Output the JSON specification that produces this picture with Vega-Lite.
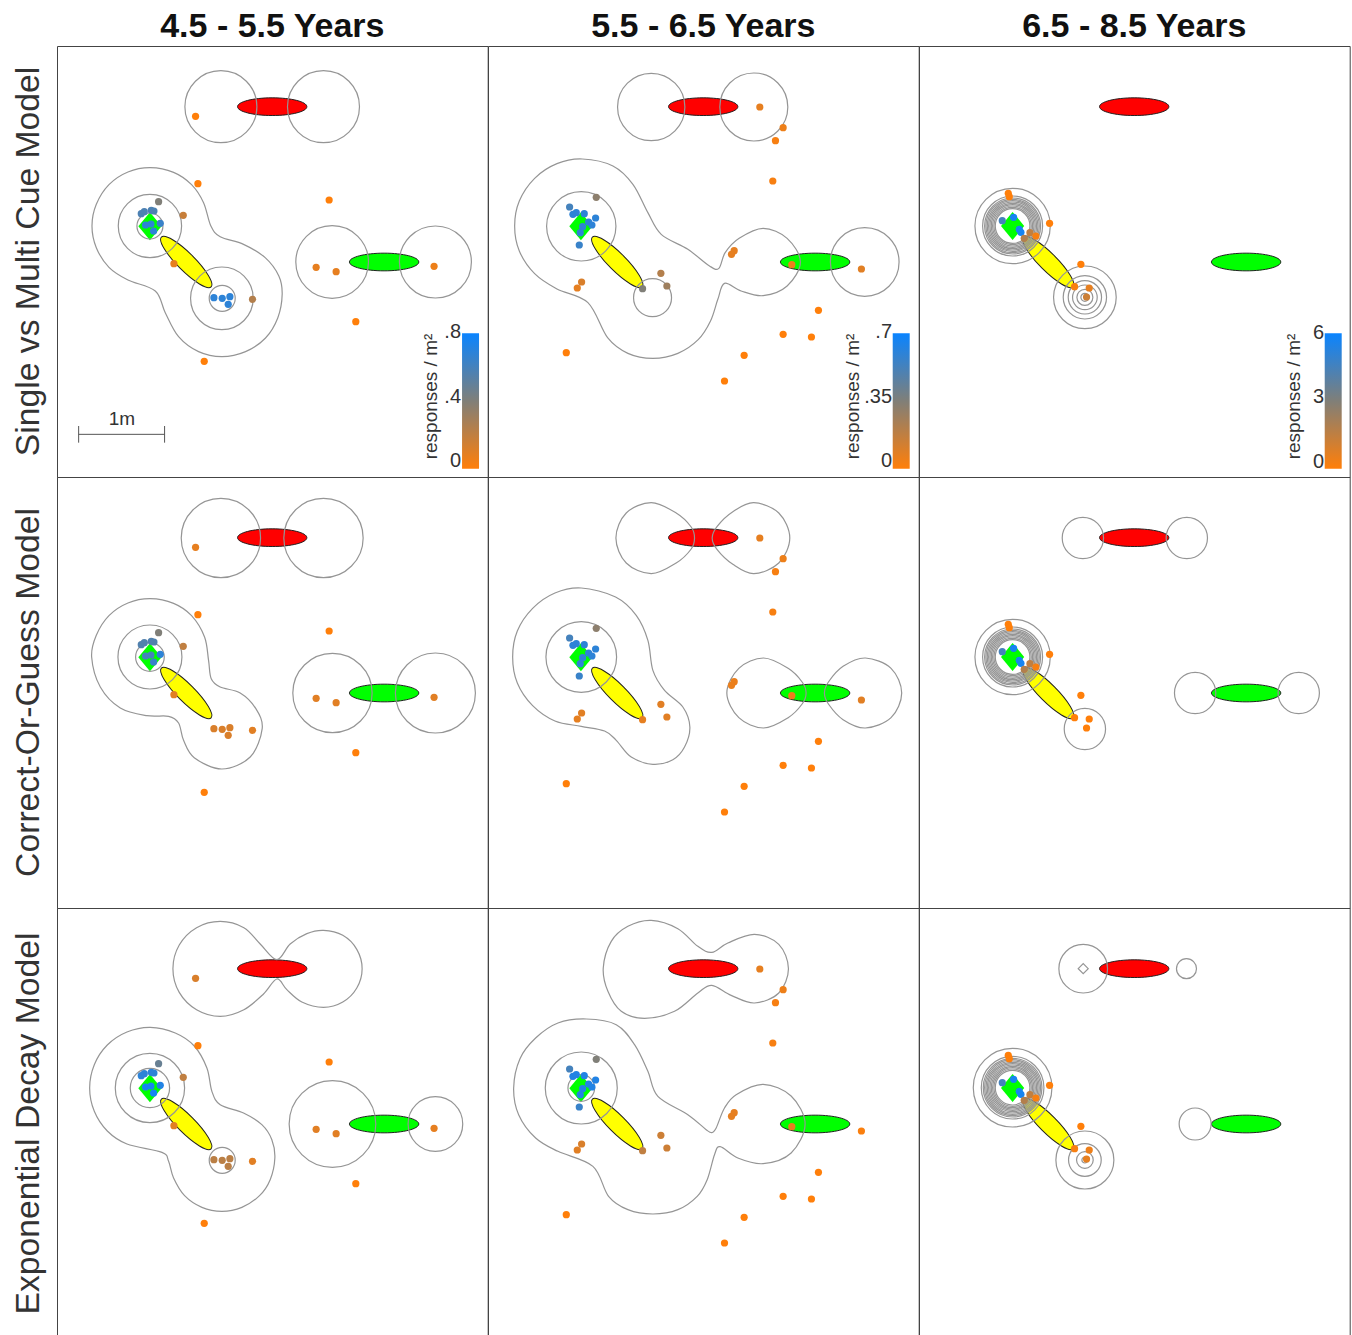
{"$schema":"https://vega.github.io/schema/vega-lite/v6.json","padding":{"left":12,"top":10,"right":0,"bottom":0},"spacing":0,"bounds":"flush","config":{"view":{"stroke":"#444","strokeWidth":1}},
"data":{"values":[
{"r":1,"c":1,"k":"E","s":"red","x":646,"y":182},{"r":1,"c":1,"k":"E","s":"green","x":982,"y":648},{"r":1,"c":1,"k":"Y","x":388,"y":648},{"r":1,"c":1,"k":"G","x":279,"y":541},
{"r":1,"c":2,"k":"E","s":"red","x":646,"y":182},{"r":1,"c":2,"k":"E","s":"green","x":982,"y":648},{"r":1,"c":2,"k":"Y","x":388,"y":648},{"r":1,"c":2,"k":"G","x":279,"y":541},
{"r":1,"c":3,"k":"E","s":"red","x":646,"y":182},{"r":1,"c":3,"k":"E","s":"green","x":982,"y":648},{"r":1,"c":3,"k":"Y","x":388,"y":648},{"r":1,"c":3,"k":"G","x":281,"y":540},
{"r":2,"c":1,"k":"E","s":"red","x":646,"y":182},{"r":2,"c":1,"k":"E","s":"green","x":982,"y":648},{"r":2,"c":1,"k":"Y","x":388,"y":648},{"r":2,"c":1,"k":"G","x":279,"y":541},
{"r":2,"c":2,"k":"E","s":"red","x":646,"y":182},{"r":2,"c":2,"k":"E","s":"green","x":982,"y":648},{"r":2,"c":2,"k":"Y","x":388,"y":648},{"r":2,"c":2,"k":"G","x":279,"y":541},
{"r":2,"c":3,"k":"E","s":"red","x":646,"y":182},{"r":2,"c":3,"k":"E","s":"green","x":982,"y":648},{"r":2,"c":3,"k":"Y","x":388,"y":648},{"r":2,"c":3,"k":"G","x":281,"y":540},
{"r":3,"c":1,"k":"E","s":"red","x":646,"y":182},{"r":3,"c":1,"k":"E","s":"green","x":982,"y":648},{"r":3,"c":1,"k":"Y","x":388,"y":648},{"r":3,"c":1,"k":"G","x":279,"y":541},
{"r":3,"c":2,"k":"E","s":"red","x":646,"y":182},{"r":3,"c":2,"k":"E","s":"green","x":982,"y":648},{"r":3,"c":2,"k":"Y","x":388,"y":648},{"r":3,"c":2,"k":"G","x":279,"y":541},
{"r":3,"c":3,"k":"E","s":"red","x":646,"y":182},{"r":3,"c":3,"k":"E","s":"green","x":982,"y":648},{"r":3,"c":3,"k":"Y","x":388,"y":648},{"r":3,"c":3,"k":"G","x":281,"y":540},

{"r":1,"c":1,"k":"R","x":492,"y":182,"d":108},{"r":1,"c":1,"k":"R","x":800,"y":182,"d":108},{"r":1,"c":1,"k":"R","x":826,"y":648,"d":109},{"r":1,"c":1,"k":"R","x":1136,"y":648,"d":108},{"r":1,"c":1,"k":"R","x":279,"y":540,"d":95},{"r":1,"c":1,"k":"R","x":279,"y":540,"d":39},{"r":1,"c":1,"k":"R","x":495,"y":757,"d":94},{"r":1,"c":1,"k":"R","x":496,"y":757,"d":39},
{"r":1,"c":2,"k":"R","x":490,"y":183,"d":101},{"r":1,"c":2,"k":"R","x":798,"y":183,"d":102},{"r":1,"c":2,"k":"R","x":1131,"y":648,"d":103},{"r":1,"c":2,"k":"R","x":280,"y":541,"d":104},{"r":1,"c":2,"k":"R","x":494,"y":755,"d":57},
{"r":1,"c":3,"k":"R","x":281,"y":540,"d":113},{"r":1,"c":3,"k":"R","x":281,"y":540,"d":90},{"r":1,"c":3,"k":"R","x":281,"y":540,"d":84},{"r":1,"c":3,"k":"R","x":281,"y":540,"d":80},{"r":1,"c":3,"k":"R","x":281,"y":540,"d":76},{"r":1,"c":3,"k":"R","x":281,"y":540,"d":72},{"r":1,"c":3,"k":"R","x":281,"y":540,"d":68},{"r":1,"c":3,"k":"R","x":281,"y":540,"d":64},{"r":1,"c":3,"k":"R","x":281,"y":540,"d":60},{"r":1,"c":3,"k":"R","x":281,"y":540,"d":56},{"r":1,"c":3,"k":"R","x":281,"y":540,"d":52},
{"r":1,"c":3,"k":"R","x":498,"y":754,"d":94},{"r":1,"c":3,"k":"R","x":498,"y":754,"d":65},{"r":1,"c":3,"k":"R","x":498,"y":754,"d":50},{"r":1,"c":3,"k":"R","x":498,"y":754,"d":37},{"r":1,"c":3,"k":"R","x":498,"y":754,"d":24},{"r":1,"c":3,"k":"R","x":498,"y":754,"d":12},
{"r":2,"c":1,"k":"R","x":492,"y":183,"d":119},{"r":2,"c":1,"k":"R","x":800,"y":183,"d":119},{"r":2,"c":1,"k":"R","x":827,"y":648,"d":119},{"r":2,"c":1,"k":"R","x":1136,"y":648,"d":120},{"r":2,"c":1,"k":"R","x":279,"y":540,"d":96},{"r":2,"c":1,"k":"R","x":279,"y":540,"d":43},
{"r":2,"c":2,"k":"R","x":280,"y":540,"d":106},
{"r":2,"c":3,"k":"R","x":492,"y":183,"d":62},{"r":2,"c":3,"k":"R","x":804,"y":183,"d":62},{"r":2,"c":3,"k":"R","x":829,"y":648,"d":62},{"r":2,"c":3,"k":"R","x":1140,"y":648,"d":62},{"r":2,"c":3,"k":"R","x":498,"y":756,"d":62},
{"r":2,"c":3,"k":"R","x":281,"y":540,"d":113},{"r":2,"c":3,"k":"R","x":281,"y":540,"d":90},{"r":2,"c":3,"k":"R","x":281,"y":540,"d":84},{"r":2,"c":3,"k":"R","x":281,"y":540,"d":80},{"r":2,"c":3,"k":"R","x":281,"y":540,"d":76},{"r":2,"c":3,"k":"R","x":281,"y":540,"d":72},{"r":2,"c":3,"k":"R","x":281,"y":540,"d":68},{"r":2,"c":3,"k":"R","x":281,"y":540,"d":64},{"r":2,"c":3,"k":"R","x":281,"y":540,"d":60},{"r":2,"c":3,"k":"R","x":281,"y":540,"d":56},{"r":2,"c":3,"k":"R","x":281,"y":540,"d":52},
{"r":3,"c":1,"k":"R","x":279,"y":540,"d":104},{"r":3,"c":1,"k":"R","x":279,"y":540,"d":59},{"r":3,"c":1,"k":"R","x":496,"y":757,"d":39},{"r":3,"c":1,"k":"R","x":827,"y":648,"d":130},{"r":3,"c":1,"k":"R","x":1136,"y":648,"d":82},
{"r":3,"c":2,"k":"R","x":280,"y":540,"d":108},{"r":3,"c":2,"k":"R","x":280,"y":540,"d":40},
{"r":3,"c":3,"k":"R","x":493,"y":182,"d":73},{"r":3,"c":3,"k":"R","x":803,"y":182,"d":30},{"r":3,"c":3,"k":"R","x":829,"y":648,"d":48},{"r":3,"c":3,"k":"R","x":498,"y":756,"d":87},{"r":3,"c":3,"k":"R","x":498,"y":756,"d":49},{"r":3,"c":3,"k":"R","x":498,"y":756,"d":25},{"r":3,"c":3,"k":"R","x":498,"y":756,"d":9},
{"r":3,"c":3,"k":"R","x":281,"y":539,"d":118},{"r":3,"c":3,"k":"R","x":281,"y":539,"d":94},{"r":3,"c":3,"k":"R","x":281,"y":539,"d":88},{"r":3,"c":3,"k":"R","x":281,"y":539,"d":84},{"r":3,"c":3,"k":"R","x":281,"y":539,"d":80},{"r":3,"c":3,"k":"R","x":281,"y":539,"d":76},{"r":3,"c":3,"k":"R","x":281,"y":539,"d":72},{"r":3,"c":3,"k":"R","x":281,"y":539,"d":68},{"r":3,"c":3,"k":"R","x":281,"y":539,"d":64},{"r":3,"c":3,"k":"R","x":281,"y":539,"d":60},{"r":3,"c":3,"k":"R","x":281,"y":539,"d":56},{"r":3,"c":3,"k":"R","x":281,"y":539,"d":52},
{"r":3,"c":3,"k":"D","x":493,"y":182},

{"r":1,"c":1,"k":"L","i":"a","x":280,"y":365},{"r":1,"c":1,"k":"L","i":"a","x":350,"y":379},{"r":1,"c":1,"k":"L","i":"a","x":404,"y":416},{"r":1,"c":1,"k":"L","i":"a","x":440,"y":470},{"r":1,"c":1,"k":"L","i":"a","x":462,"y":540},{"r":1,"c":1,"k":"L","i":"a","x":490,"y":572},{"r":1,"c":1,"k":"L","i":"a","x":560,"y":595},{"r":1,"c":1,"k":"L","i":"a","x":625,"y":635},{"r":1,"c":1,"k":"L","i":"a","x":666,"y":690},{"r":1,"c":1,"k":"L","i":"a","x":676,"y":745},{"r":1,"c":1,"k":"L","i":"a","x":663,"y":815},{"r":1,"c":1,"k":"L","i":"a","x":626,"y":876},{"r":1,"c":1,"k":"L","i":"a","x":566,"y":917},{"r":1,"c":1,"k":"L","i":"a","x":495,"y":932},{"r":1,"c":1,"k":"L","i":"a","x":425,"y":917},{"r":1,"c":1,"k":"L","i":"a","x":365,"y":872},{"r":1,"c":1,"k":"L","i":"a","x":325,"y":800},{"r":1,"c":1,"k":"L","i":"a","x":295,"y":735},{"r":1,"c":1,"k":"L","i":"a","x":213,"y":702},{"r":1,"c":1,"k":"L","i":"a","x":156,"y":664},{"r":1,"c":1,"k":"L","i":"a","x":118,"y":605},{"r":1,"c":1,"k":"L","i":"a","x":105,"y":540},{"r":1,"c":1,"k":"L","i":"a","x":118,"y":475},{"r":1,"c":1,"k":"L","i":"a","x":156,"y":416},{"r":1,"c":1,"k":"L","i":"a","x":213,"y":378},
{"r":1,"c":2,"k":"L","i":"b","x":283,"y":339},{"r":1,"c":2,"k":"L","i":"b","x":375,"y":360},{"r":1,"c":2,"k":"L","i":"b","x":435,"y":415},{"r":1,"c":2,"k":"L","i":"b","x":480,"y":500},{"r":1,"c":2,"k":"L","i":"b","x":520,"y":565},{"r":1,"c":2,"k":"L","i":"b","x":600,"y":610},{"r":1,"c":2,"k":"L","i":"b","x":665,"y":660},{"r":1,"c":2,"k":"L","i":"b","x":693,"y":667},{"r":1,"c":2,"k":"L","i":"b","x":712,"y":620},{"r":1,"c":2,"k":"L","i":"b","x":754,"y":577},{"r":1,"c":2,"k":"L","i":"b","x":826,"y":547},{"r":1,"c":2,"k":"L","i":"b","x":898,"y":577},{"r":1,"c":2,"k":"L","i":"b","x":938,"y":648},{"r":1,"c":2,"k":"L","i":"b","x":898,"y":720},{"r":1,"c":2,"k":"L","i":"b","x":826,"y":749},{"r":1,"c":2,"k":"L","i":"b","x":760,"y":735},{"r":1,"c":2,"k":"L","i":"b","x":710,"y":712},{"r":1,"c":2,"k":"L","i":"b","x":690,"y":760},{"r":1,"c":2,"k":"L","i":"b","x":668,"y":825},{"r":1,"c":2,"k":"L","i":"b","x":631,"y":881},{"r":1,"c":2,"k":"L","i":"b","x":570,"y":922},{"r":1,"c":2,"k":"L","i":"b","x":495,"y":937},{"r":1,"c":2,"k":"L","i":"b","x":420,"y":922},{"r":1,"c":2,"k":"L","i":"b","x":359,"y":875},{"r":1,"c":2,"k":"L","i":"b","x":300,"y":770},{"r":1,"c":2,"k":"L","i":"b","x":207,"y":729},{"r":1,"c":2,"k":"L","i":"b","x":140,"y":683},{"r":1,"c":2,"k":"L","i":"b","x":94,"y":615},{"r":1,"c":2,"k":"L","i":"b","x":80,"y":540},{"r":1,"c":2,"k":"L","i":"b","x":94,"y":465},{"r":1,"c":2,"k":"L","i":"b","x":140,"y":397},{"r":1,"c":2,"k":"L","i":"b","x":207,"y":353},
{"r":2,"c":1,"k":"L","i":"c","x":280,"y":365},{"r":2,"c":1,"k":"L","i":"c","x":350,"y":379},{"r":2,"c":1,"k":"L","i":"c","x":404,"y":416},{"r":2,"c":1,"k":"L","i":"c","x":443,"y":480},{"r":2,"c":1,"k":"L","i":"c","x":455,"y":550},{"r":2,"c":1,"k":"L","i":"c","x":463,"y":605},{"r":2,"c":1,"k":"L","i":"c","x":490,"y":630},{"r":2,"c":1,"k":"L","i":"c","x":550,"y":648},{"r":2,"c":1,"k":"L","i":"c","x":597,"y":695},{"r":2,"c":1,"k":"L","i":"c","x":616,"y":755},{"r":2,"c":1,"k":"L","i":"c","x":580,"y":840},{"r":2,"c":1,"k":"L","i":"c","x":495,"y":876},{"r":2,"c":1,"k":"L","i":"c","x":412,"y":842},{"r":2,"c":1,"k":"L","i":"c","x":380,"y":790},{"r":2,"c":1,"k":"L","i":"c","x":365,"y":738},{"r":2,"c":1,"k":"L","i":"c","x":335,"y":718},{"r":2,"c":1,"k":"L","i":"c","x":270,"y":716},{"r":2,"c":1,"k":"L","i":"c","x":190,"y":693},{"r":2,"c":1,"k":"L","i":"c","x":130,"y":630},{"r":2,"c":1,"k":"L","i":"c","x":104,"y":540},{"r":2,"c":1,"k":"L","i":"c","x":118,"y":475},{"r":2,"c":1,"k":"L","i":"c","x":156,"y":416},{"r":2,"c":1,"k":"L","i":"c","x":213,"y":378},
{"r":2,"c":2,"k":"L","i":"d","x":280,"y":333},{"r":2,"c":2,"k":"L","i":"d","x":383,"y":360},{"r":2,"c":2,"k":"L","i":"d","x":445,"y":415},{"r":2,"c":2,"k":"L","i":"d","x":480,"y":490},{"r":2,"c":2,"k":"L","i":"d","x":495,"y":580},{"r":2,"c":2,"k":"L","i":"d","x":530,"y":640},{"r":2,"c":2,"k":"L","i":"d","x":585,"y":690},{"r":2,"c":2,"k":"L","i":"d","x":606,"y":750},{"r":2,"c":2,"k":"L","i":"d","x":590,"y":810},{"r":2,"c":2,"k":"L","i":"d","x":555,"y":848},{"r":2,"c":2,"k":"L","i":"d","x":495,"y":862},{"r":2,"c":2,"k":"L","i":"d","x":430,"y":840},{"r":2,"c":2,"k":"L","i":"d","x":385,"y":790},{"r":2,"c":2,"k":"L","i":"d","x":350,"y":762},{"r":2,"c":2,"k":"L","i":"d","x":280,"y":748},{"r":2,"c":2,"k":"L","i":"d","x":201,"y":732},{"r":2,"c":2,"k":"L","i":"d","x":134,"y":686},{"r":2,"c":2,"k":"L","i":"d","x":88,"y":618},{"r":2,"c":2,"k":"L","i":"d","x":74,"y":540},{"r":2,"c":2,"k":"L","i":"d","x":88,"y":462},{"r":2,"c":2,"k":"L","i":"d","x":134,"y":394},{"r":2,"c":2,"k":"L","i":"d","x":201,"y":348},
{"r":2,"c":2,"k":"L","i":"e","x":490,"y":77},{"r":2,"c":2,"k":"L","i":"e","x":565,"y":108},{"r":2,"c":2,"k":"L","i":"e","x":610,"y":150},{"r":2,"c":2,"k":"L","i":"e","x":620,"y":183},{"r":2,"c":2,"k":"L","i":"e","x":610,"y":216},{"r":2,"c":2,"k":"L","i":"e","x":565,"y":258},{"r":2,"c":2,"k":"L","i":"e","x":490,"y":290},{"r":2,"c":2,"k":"L","i":"e","x":415,"y":258},{"r":2,"c":2,"k":"L","i":"e","x":384,"y":183},{"r":2,"c":2,"k":"L","i":"e","x":415,"y":108},
{"r":2,"c":2,"k":"L","i":"f","x":798,"y":77},{"r":2,"c":2,"k":"L","i":"f","x":873,"y":108},{"r":2,"c":2,"k":"L","i":"f","x":906,"y":183},{"r":2,"c":2,"k":"L","i":"f","x":873,"y":258},{"r":2,"c":2,"k":"L","i":"f","x":798,"y":290},{"r":2,"c":2,"k":"L","i":"f","x":735,"y":262},{"r":2,"c":2,"k":"L","i":"f","x":688,"y":218},{"r":2,"c":2,"k":"L","i":"f","x":673,"y":183},{"r":2,"c":2,"k":"L","i":"f","x":688,"y":148},{"r":2,"c":2,"k":"L","i":"f","x":735,"y":104},
{"r":2,"c":2,"k":"L","i":"g","x":827,"y":543},{"r":2,"c":2,"k":"L","i":"g","x":901,"y":574},{"r":2,"c":2,"k":"L","i":"g","x":943,"y":615},{"r":2,"c":2,"k":"L","i":"g","x":955,"y":648},{"r":2,"c":2,"k":"L","i":"g","x":943,"y":681},{"r":2,"c":2,"k":"L","i":"g","x":901,"y":722},{"r":2,"c":2,"k":"L","i":"g","x":827,"y":753},{"r":2,"c":2,"k":"L","i":"g","x":753,"y":722},{"r":2,"c":2,"k":"L","i":"g","x":717,"y":648},{"r":2,"c":2,"k":"L","i":"g","x":753,"y":574},
{"r":2,"c":2,"k":"L","i":"h","x":1133,"y":543},{"r":2,"c":2,"k":"L","i":"h","x":1210,"y":574},{"r":2,"c":2,"k":"L","i":"h","x":1242,"y":648},{"r":2,"c":2,"k":"L","i":"h","x":1210,"y":722},{"r":2,"c":2,"k":"L","i":"h","x":1133,"y":753},{"r":2,"c":2,"k":"L","i":"h","x":1066,"y":728},{"r":2,"c":2,"k":"L","i":"h","x":1022,"y":681},{"r":2,"c":2,"k":"L","i":"h","x":1010,"y":648},{"r":2,"c":2,"k":"L","i":"h","x":1022,"y":615},{"r":2,"c":2,"k":"L","i":"h","x":1066,"y":568},
{"r":3,"c":1,"k":"L","i":"j","x":490,"y":40},{"r":3,"c":1,"k":"L","i":"j","x":561,"y":59},{"r":3,"c":1,"k":"L","i":"j","x":610,"y":108},{"r":3,"c":1,"k":"L","i":"j","x":660,"y":155},{"r":3,"c":1,"k":"L","i":"j","x":700,"y":108},{"r":3,"c":1,"k":"L","i":"j","x":750,"y":77},{"r":3,"c":1,"k":"L","i":"j","x":800,"y":67},{"r":3,"c":1,"k":"L","i":"j","x":858,"y":82},{"r":3,"c":1,"k":"L","i":"j","x":900,"y":124},{"r":3,"c":1,"k":"L","i":"j","x":916,"y":182},{"r":3,"c":1,"k":"L","i":"j","x":900,"y":240},{"r":3,"c":1,"k":"L","i":"j","x":858,"y":282},{"r":3,"c":1,"k":"L","i":"j","x":800,"y":298},{"r":3,"c":1,"k":"L","i":"j","x":735,"y":282},{"r":3,"c":1,"k":"L","i":"j","x":690,"y":245},{"r":3,"c":1,"k":"L","i":"j","x":660,"y":213},{"r":3,"c":1,"k":"L","i":"j","x":620,"y":258},{"r":3,"c":1,"k":"L","i":"j","x":561,"y":305},{"r":3,"c":1,"k":"L","i":"j","x":490,"y":325},{"r":3,"c":1,"k":"L","i":"j","x":419,"y":305},{"r":3,"c":1,"k":"L","i":"j","x":367,"y":253},{"r":3,"c":1,"k":"L","i":"j","x":348,"y":182},{"r":3,"c":1,"k":"L","i":"j","x":367,"y":111},{"r":3,"c":1,"k":"L","i":"j","x":419,"y":59},
{"r":3,"c":1,"k":"L","i":"l","x":280,"y":358},{"r":3,"c":1,"k":"L","i":"l","x":355,"y":375},{"r":3,"c":1,"k":"L","i":"l","x":412,"y":414},{"r":3,"c":1,"k":"L","i":"l","x":450,"y":480},{"r":3,"c":1,"k":"L","i":"l","x":465,"y":550},{"r":3,"c":1,"k":"L","i":"l","x":490,"y":590},{"r":3,"c":1,"k":"L","i":"l","x":560,"y":615},{"r":3,"c":1,"k":"L","i":"l","x":615,"y":650},{"r":3,"c":1,"k":"L","i":"l","x":645,"y":695},{"r":3,"c":1,"k":"L","i":"l","x":654,"y":750},{"r":3,"c":1,"k":"L","i":"l","x":640,"y":815},{"r":3,"c":1,"k":"L","i":"l","x":608,"y":863},{"r":3,"c":1,"k":"L","i":"l","x":555,"y":898},{"r":3,"c":1,"k":"L","i":"l","x":495,"y":910},{"r":3,"c":1,"k":"L","i":"l","x":435,"y":898},{"r":3,"c":1,"k":"L","i":"l","x":383,"y":863},{"r":3,"c":1,"k":"L","i":"l","x":350,"y":810},{"r":3,"c":1,"k":"L","i":"l","x":335,"y":760},{"r":3,"c":1,"k":"L","i":"l","x":315,"y":733},{"r":3,"c":1,"k":"L","i":"l","x":210,"y":708},{"r":3,"c":1,"k":"L","i":"l","x":151,"y":669},{"r":3,"c":1,"k":"L","i":"l","x":112,"y":610},{"r":3,"c":1,"k":"L","i":"l","x":98,"y":540},{"r":3,"c":1,"k":"L","i":"l","x":112,"y":470},{"r":3,"c":1,"k":"L","i":"l","x":151,"y":411},{"r":3,"c":1,"k":"L","i":"l","x":210,"y":372},
{"r":3,"c":2,"k":"L","i":"m","x":490,"y":37},{"r":3,"c":2,"k":"L","i":"m","x":570,"y":62},{"r":3,"c":2,"k":"L","i":"m","x":630,"y":115},{"r":3,"c":2,"k":"L","i":"m","x":672,"y":133},{"r":3,"c":2,"k":"L","i":"m","x":720,"y":105},{"r":3,"c":2,"k":"L","i":"m","x":800,"y":79},{"r":3,"c":2,"k":"L","i":"m","x":873,"y":109},{"r":3,"c":2,"k":"L","i":"m","x":902,"y":182},{"r":3,"c":2,"k":"L","i":"m","x":873,"y":255},{"r":3,"c":2,"k":"L","i":"m","x":800,"y":285},{"r":3,"c":2,"k":"L","i":"m","x":730,"y":262},{"r":3,"c":2,"k":"L","i":"m","x":672,"y":232},{"r":3,"c":2,"k":"L","i":"m","x":630,"y":255},{"r":3,"c":2,"k":"L","i":"m","x":560,"y":310},{"r":3,"c":2,"k":"L","i":"m","x":470,"y":331},{"r":3,"c":2,"k":"L","i":"m","x":400,"y":310},{"r":3,"c":2,"k":"L","i":"m","x":360,"y":250},{"r":3,"c":2,"k":"L","i":"m","x":346,"y":180},{"r":3,"c":2,"k":"L","i":"m","x":370,"y":100},{"r":3,"c":2,"k":"L","i":"m","x":420,"y":55},
{"r":3,"c":2,"k":"L","i":"n","x":295,"y":333},{"r":3,"c":2,"k":"L","i":"n","x":385,"y":350},{"r":3,"c":2,"k":"L","i":"n","x":440,"y":410},{"r":3,"c":2,"k":"L","i":"n","x":480,"y":490},{"r":3,"c":2,"k":"L","i":"n","x":510,"y":565},{"r":3,"c":2,"k":"L","i":"n","x":600,"y":620},{"r":3,"c":2,"k":"L","i":"n","x":655,"y":665},{"r":3,"c":2,"k":"L","i":"n","x":672,"y":674},{"r":3,"c":2,"k":"L","i":"n","x":685,"y":660},{"r":3,"c":2,"k":"L","i":"n","x":710,"y":600},{"r":3,"c":2,"k":"L","i":"n","x":745,"y":560},{"r":3,"c":2,"k":"L","i":"n","x":826,"y":529},{"r":3,"c":2,"k":"L","i":"n","x":910,"y":564},{"r":3,"c":2,"k":"L","i":"n","x":952,"y":648},{"r":3,"c":2,"k":"L","i":"n","x":910,"y":735},{"r":3,"c":2,"k":"L","i":"n","x":826,"y":767},{"r":3,"c":2,"k":"L","i":"n","x":750,"y":750},{"r":3,"c":2,"k":"L","i":"n","x":697,"y":716},{"r":3,"c":2,"k":"L","i":"n","x":680,"y":740},{"r":3,"c":2,"k":"L","i":"n","x":658,"y":815},{"r":3,"c":2,"k":"L","i":"n","x":628,"y":865},{"r":3,"c":2,"k":"L","i":"n","x":570,"y":905},{"r":3,"c":2,"k":"L","i":"n","x":495,"y":918},{"r":3,"c":2,"k":"L","i":"n","x":420,"y":905},{"r":3,"c":2,"k":"L","i":"n","x":362,"y":865},{"r":3,"c":2,"k":"L","i":"n","x":315,"y":775},{"r":3,"c":2,"k":"L","i":"n","x":210,"y":730},{"r":3,"c":2,"k":"L","i":"n","x":143,"y":690},{"r":3,"c":2,"k":"L","i":"n","x":92,"y":620},{"r":3,"c":2,"k":"L","i":"n","x":77,"y":540},{"r":3,"c":2,"k":"L","i":"n","x":96,"y":452},{"r":3,"c":2,"k":"L","i":"n","x":143,"y":390},{"r":3,"c":2,"k":"L","i":"n","x":210,"y":345},

{"r":1,"c":1,"k":"P","x":416,"y":211,"v":0},{"r":1,"c":1,"k":"P","x":423,"y":413,"v":0},{"r":1,"c":1,"k":"P","x":817,"y":462,"v":0},{"r":1,"c":1,"k":"P","x":897,"y":827,"v":0},{"r":1,"c":1,"k":"P","x":442,"y":946,"v":0},{"r":1,"c":1,"k":"P","x":379,"y":508,"v":0.22},{"r":1,"c":1,"k":"P","x":305,"y":467,"v":0.5},{"r":1,"c":1,"k":"P","x":351,"y":653,"v":0.1},{"r":1,"c":1,"k":"P","x":778,"y":664,"v":0.1},{"r":1,"c":1,"k":"P","x":838,"y":677,"v":0.1},{"r":1,"c":1,"k":"P","x":1132,"y":661,"v":0.07},{"r":1,"c":1,"k":"P","x":587,"y":760,"v":0.3},{"r":1,"c":1,"k":"P","x":471,"y":755,"v":0.85},{"r":1,"c":1,"k":"P","x":496,"y":757,"v":0.85},{"r":1,"c":1,"k":"P","x":519,"y":752,"v":0.85},{"r":1,"c":1,"k":"P","x":514,"y":775,"v":0.85},{"r":1,"c":1,"k":"P","x":253,"y":503,"v":0.72},{"r":1,"c":1,"k":"P","x":262,"y":497,"v":0.72},{"r":1,"c":1,"k":"P","x":283,"y":493,"v":0.72},{"r":1,"c":1,"k":"P","x":291,"y":495,"v":0.72},{"r":1,"c":1,"k":"P","x":266,"y":537,"v":0.85},{"r":1,"c":1,"k":"P","x":282,"y":534,"v":0.85},{"r":1,"c":1,"k":"P","x":310,"y":532,"v":0.8},{"r":1,"c":1,"k":"P","x":290,"y":555,"v":0.85},
{"r":2,"c":1,"k":"P","x":416,"y":211,"v":0.1},{"r":2,"c":1,"k":"P","x":423,"y":413,"v":0},{"r":2,"c":1,"k":"P","x":817,"y":462,"v":0},{"r":2,"c":1,"k":"P","x":897,"y":827,"v":0},{"r":2,"c":1,"k":"P","x":442,"y":946,"v":0},{"r":2,"c":1,"k":"P","x":379,"y":508,"v":0.25},{"r":2,"c":1,"k":"P","x":305,"y":467,"v":0.5},{"r":2,"c":1,"k":"P","x":351,"y":653,"v":0.12},{"r":2,"c":1,"k":"P","x":778,"y":664,"v":0.12},{"r":2,"c":1,"k":"P","x":838,"y":677,"v":0.12},{"r":2,"c":1,"k":"P","x":1132,"y":661,"v":0.12},{"r":2,"c":1,"k":"P","x":587,"y":760,"v":0.12},{"r":2,"c":1,"k":"P","x":471,"y":755,"v":0.15},{"r":2,"c":1,"k":"P","x":496,"y":757,"v":0.15},{"r":2,"c":1,"k":"P","x":519,"y":752,"v":0.15},{"r":2,"c":1,"k":"P","x":514,"y":775,"v":0.15},{"r":2,"c":1,"k":"P","x":253,"y":503,"v":0.7},{"r":2,"c":1,"k":"P","x":262,"y":497,"v":0.7},{"r":2,"c":1,"k":"P","x":283,"y":493,"v":0.7},{"r":2,"c":1,"k":"P","x":291,"y":495,"v":0.7},{"r":2,"c":1,"k":"P","x":266,"y":537,"v":0.75},{"r":2,"c":1,"k":"P","x":282,"y":534,"v":0.75},{"r":2,"c":1,"k":"P","x":310,"y":532,"v":0.85},{"r":2,"c":1,"k":"P","x":290,"y":555,"v":0.8},
{"r":3,"c":1,"k":"P","x":416,"y":211,"v":0.15},{"r":3,"c":1,"k":"P","x":423,"y":413,"v":0},{"r":3,"c":1,"k":"P","x":817,"y":462,"v":0},{"r":3,"c":1,"k":"P","x":897,"y":827,"v":0},{"r":3,"c":1,"k":"P","x":442,"y":946,"v":0},{"r":3,"c":1,"k":"P","x":379,"y":508,"v":0.25},{"r":3,"c":1,"k":"P","x":305,"y":467,"v":0.6},{"r":3,"c":1,"k":"P","x":351,"y":653,"v":0.12},{"r":3,"c":1,"k":"P","x":778,"y":664,"v":0.12},{"r":3,"c":1,"k":"P","x":838,"y":677,"v":0.12},{"r":3,"c":1,"k":"P","x":1132,"y":661,"v":0.1},{"r":3,"c":1,"k":"P","x":587,"y":760,"v":0.12},{"r":3,"c":1,"k":"P","x":471,"y":755,"v":0.27},{"r":3,"c":1,"k":"P","x":496,"y":757,"v":0.27},{"r":3,"c":1,"k":"P","x":519,"y":752,"v":0.27},{"r":3,"c":1,"k":"P","x":514,"y":775,"v":0.27},{"r":3,"c":1,"k":"P","x":253,"y":503,"v":0.85},{"r":3,"c":1,"k":"P","x":262,"y":497,"v":0.85},{"r":3,"c":1,"k":"P","x":283,"y":493,"v":0.85},{"r":3,"c":1,"k":"P","x":291,"y":495,"v":0.85},{"r":3,"c":1,"k":"P","x":266,"y":537,"v":0.95},{"r":3,"c":1,"k":"P","x":282,"y":534,"v":0.95},{"r":3,"c":1,"k":"P","x":310,"y":532,"v":0.9},{"r":3,"c":1,"k":"P","x":290,"y":555,"v":0.95},

{"r":1,"c":2,"k":"P","x":816,"y":183,"v":0.1},{"r":1,"c":2,"k":"P","x":886,"y":245,"v":0.07},{"r":1,"c":2,"k":"P","x":863,"y":284,"v":0.03},{"r":1,"c":2,"k":"P","x":855,"y":405,"v":0.03},{"r":1,"c":2,"k":"P","x":992,"y":793,"v":0},{"r":1,"c":2,"k":"P","x":886,"y":865,"v":0},{"r":1,"c":2,"k":"P","x":971,"y":873,"v":0},{"r":1,"c":2,"k":"P","x":769,"y":928,"v":0},{"r":1,"c":2,"k":"P","x":710,"y":1005,"v":0},{"r":1,"c":2,"k":"P","x":235,"y":920,"v":0},{"r":1,"c":2,"k":"P","x":912,"y":656,"v":0.08},{"r":1,"c":2,"k":"P","x":1121,"y":669,"v":0.12},{"r":1,"c":2,"k":"P","x":739,"y":614,"v":0.1},{"r":1,"c":2,"k":"P","x":731,"y":625,"v":0.1},{"r":1,"c":2,"k":"P","x":519,"y":682,"v":0.3},{"r":1,"c":2,"k":"P","x":537,"y":720,"v":0.38},{"r":1,"c":2,"k":"P","x":464,"y":728,"v":0.5},{"r":1,"c":2,"k":"P","x":281,"y":708,"v":0.15},{"r":1,"c":2,"k":"P","x":268,"y":726,"v":0.1},{"r":1,"c":2,"k":"P","x":325,"y":454,"v":0.45},{"r":1,"c":2,"k":"P","x":245,"y":483,"v":0.75},{"r":1,"c":2,"k":"P","x":274,"y":597,"v":0.8},{"r":1,"c":2,"k":"P","x":255,"y":505,"v":0.85},{"r":1,"c":2,"k":"P","x":265,"y":500,"v":0.85},{"r":1,"c":2,"k":"P","x":289,"y":503,"v":0.85},{"r":1,"c":2,"k":"P","x":323,"y":516,"v":0.85},{"r":1,"c":2,"k":"P","x":302,"y":528,"v":0.85},{"r":1,"c":2,"k":"P","x":312,"y":537,"v":0.85},{"r":1,"c":2,"k":"P","x":284,"y":542,"v":0.85},{"r":1,"c":2,"k":"P","x":277,"y":560,"v":0.85},
{"r":2,"c":2,"k":"P","x":816,"y":183,"v":0.1},{"r":2,"c":2,"k":"P","x":886,"y":245,"v":0.07},{"r":2,"c":2,"k":"P","x":863,"y":284,"v":0.03},{"r":2,"c":2,"k":"P","x":855,"y":405,"v":0.03},{"r":2,"c":2,"k":"P","x":992,"y":793,"v":0},{"r":2,"c":2,"k":"P","x":886,"y":865,"v":0},{"r":2,"c":2,"k":"P","x":971,"y":873,"v":0},{"r":2,"c":2,"k":"P","x":769,"y":928,"v":0},{"r":2,"c":2,"k":"P","x":710,"y":1005,"v":0},{"r":2,"c":2,"k":"P","x":235,"y":920,"v":0},{"r":2,"c":2,"k":"P","x":912,"y":656,"v":0.08},{"r":2,"c":2,"k":"P","x":1121,"y":669,"v":0.12},{"r":2,"c":2,"k":"P","x":739,"y":614,"v":0.08},{"r":2,"c":2,"k":"P","x":731,"y":625,"v":0.08},{"r":2,"c":2,"k":"P","x":519,"y":682,"v":0.12},{"r":2,"c":2,"k":"P","x":537,"y":720,"v":0.12},{"r":2,"c":2,"k":"P","x":464,"y":728,"v":0.1},{"r":2,"c":2,"k":"P","x":281,"y":708,"v":0.12},{"r":2,"c":2,"k":"P","x":268,"y":726,"v":0.1},{"r":2,"c":2,"k":"P","x":325,"y":454,"v":0.45},{"r":2,"c":2,"k":"P","x":245,"y":483,"v":0.75},{"r":2,"c":2,"k":"P","x":274,"y":597,"v":0.8},{"r":2,"c":2,"k":"P","x":255,"y":505,"v":0.85},{"r":2,"c":2,"k":"P","x":265,"y":500,"v":0.85},{"r":2,"c":2,"k":"P","x":289,"y":503,"v":0.85},{"r":2,"c":2,"k":"P","x":323,"y":516,"v":0.85},{"r":2,"c":2,"k":"P","x":302,"y":528,"v":0.85},{"r":2,"c":2,"k":"P","x":312,"y":537,"v":0.85},{"r":2,"c":2,"k":"P","x":284,"y":542,"v":0.85},{"r":2,"c":2,"k":"P","x":277,"y":560,"v":0.85},
{"r":3,"c":2,"k":"P","x":816,"y":183,"v":0.1},{"r":3,"c":2,"k":"P","x":886,"y":245,"v":0.07},{"r":3,"c":2,"k":"P","x":863,"y":284,"v":0.03},{"r":3,"c":2,"k":"P","x":855,"y":405,"v":0.03},{"r":3,"c":2,"k":"P","x":992,"y":793,"v":0},{"r":3,"c":2,"k":"P","x":886,"y":865,"v":0},{"r":3,"c":2,"k":"P","x":971,"y":873,"v":0},{"r":3,"c":2,"k":"P","x":769,"y":928,"v":0},{"r":3,"c":2,"k":"P","x":710,"y":1005,"v":0},{"r":3,"c":2,"k":"P","x":235,"y":920,"v":0},{"r":3,"c":2,"k":"P","x":912,"y":656,"v":0.1},{"r":3,"c":2,"k":"P","x":1121,"y":669,"v":0.02},{"r":3,"c":2,"k":"P","x":739,"y":614,"v":0.1},{"r":3,"c":2,"k":"P","x":731,"y":625,"v":0.1},{"r":3,"c":2,"k":"P","x":519,"y":682,"v":0.2},{"r":3,"c":2,"k":"P","x":537,"y":720,"v":0.2},{"r":3,"c":2,"k":"P","x":464,"y":728,"v":0.25},{"r":3,"c":2,"k":"P","x":281,"y":708,"v":0.15},{"r":3,"c":2,"k":"P","x":268,"y":726,"v":0.12},{"r":3,"c":2,"k":"P","x":325,"y":454,"v":0.5},{"r":3,"c":2,"k":"P","x":245,"y":483,"v":0.75},{"r":3,"c":2,"k":"P","x":274,"y":597,"v":0.8},{"r":3,"c":2,"k":"P","x":255,"y":505,"v":0.9},{"r":3,"c":2,"k":"P","x":265,"y":500,"v":0.9},{"r":3,"c":2,"k":"P","x":289,"y":503,"v":0.9},{"r":3,"c":2,"k":"P","x":323,"y":516,"v":0.9},{"r":3,"c":2,"k":"P","x":302,"y":528,"v":0.9},{"r":3,"c":2,"k":"P","x":312,"y":537,"v":0.9},{"r":3,"c":2,"k":"P","x":284,"y":542,"v":0.9},{"r":3,"c":2,"k":"P","x":277,"y":560,"v":0.9},

{"r":1,"c":3,"k":"P","x":268,"y":442,"v":0},{"r":1,"c":3,"k":"P","x":271,"y":452,"v":0},{"r":1,"c":3,"k":"P","x":392,"y":532,"v":0},{"r":1,"c":3,"k":"P","x":250,"y":524,"v":0.75},{"r":1,"c":3,"k":"P","x":284,"y":514,"v":0.95},{"r":1,"c":3,"k":"P","x":301,"y":550,"v":0.95},{"r":1,"c":3,"k":"P","x":306,"y":559,"v":0.95},{"r":1,"c":3,"k":"P","x":333,"y":560,"v":0.25},{"r":1,"c":3,"k":"P","x":351,"y":570,"v":0.03},{"r":1,"c":3,"k":"P","x":316,"y":577,"v":0.3},{"r":1,"c":3,"k":"P","x":486,"y":655,"v":0},{"r":1,"c":3,"k":"P","x":467,"y":722,"v":0.03},{"r":1,"c":3,"k":"P","x":511,"y":726,"v":0.1},{"r":1,"c":3,"k":"P","x":503,"y":753,"v":0.2},
{"r":2,"c":3,"k":"P","x":268,"y":442,"v":0},{"r":2,"c":3,"k":"P","x":271,"y":452,"v":0},{"r":2,"c":3,"k":"P","x":392,"y":532,"v":0},{"r":2,"c":3,"k":"P","x":250,"y":524,"v":0.75},{"r":2,"c":3,"k":"P","x":284,"y":514,"v":0.95},{"r":2,"c":3,"k":"P","x":301,"y":550,"v":0.95},{"r":2,"c":3,"k":"P","x":306,"y":559,"v":0.95},{"r":2,"c":3,"k":"P","x":333,"y":560,"v":0.25},{"r":2,"c":3,"k":"P","x":351,"y":570,"v":0.03},{"r":2,"c":3,"k":"P","x":316,"y":577,"v":0.3},{"r":2,"c":3,"k":"P","x":486,"y":655,"v":0},{"r":2,"c":3,"k":"P","x":467,"y":722,"v":0},{"r":2,"c":3,"k":"P","x":511,"y":726,"v":0},{"r":2,"c":3,"k":"P","x":503,"y":753,"v":0},
{"r":3,"c":3,"k":"P","x":268,"y":442,"v":0},{"r":3,"c":3,"k":"P","x":271,"y":452,"v":0},{"r":3,"c":3,"k":"P","x":392,"y":532,"v":0},{"r":3,"c":3,"k":"P","x":250,"y":524,"v":0.75},{"r":3,"c":3,"k":"P","x":284,"y":514,"v":0.95},{"r":3,"c":3,"k":"P","x":301,"y":550,"v":0.95},{"r":3,"c":3,"k":"P","x":306,"y":559,"v":0.95},{"r":3,"c":3,"k":"P","x":333,"y":560,"v":0.25},{"r":3,"c":3,"k":"P","x":351,"y":570,"v":0.03},{"r":3,"c":3,"k":"P","x":316,"y":577,"v":0.3},{"r":3,"c":3,"k":"P","x":486,"y":655,"v":0},{"r":3,"c":3,"k":"P","x":467,"y":722,"v":0.03},{"r":3,"c":3,"k":"P","x":511,"y":726,"v":0.07},{"r":3,"c":3,"k":"P","x":503,"y":753,"v":0.1},

{"r":1,"c":1,"k":"C","x":1216,"x2":1267,"y":862,"y2":1268},{"r":1,"c":2,"k":"C","x":1215,"x2":1266,"y":862,"y2":1268},{"r":1,"c":3,"k":"C","x":1218,"x2":1269,"y":862,"y2":1268},
{"r":1,"c":1,"k":"T","x":1213,"y":858,"t":".8"},{"r":1,"c":1,"k":"T","x":1213,"y":1052,"t":".4"},{"r":1,"c":1,"k":"T","x":1213,"y":1245,"t":"0"},
{"r":1,"c":2,"k":"T","x":1213,"y":858,"t":".7"},{"r":1,"c":2,"k":"T","x":1213,"y":1052,"t":".35"},{"r":1,"c":2,"k":"T","x":1213,"y":1245,"t":"0"},
{"r":1,"c":3,"k":"T","x":1216,"y":860,"t":"6"},{"r":1,"c":3,"k":"T","x":1216,"y":1054,"t":"3"},{"r":1,"c":3,"k":"T","x":1216,"y":1247,"t":"0"},
{"r":1,"c":1,"k":"V","x":1141,"y":1240,"t":"responses / m²"},{"r":1,"c":2,"k":"V","x":1113,"y":1240,"t":"responses / m²"},{"r":1,"c":3,"k":"V","x":1143,"y":1240,"t":"responses / m²"},
{"r":1,"c":1,"k":"B","x":65,"x2":323,"y":1165,"y2":1165},{"r":1,"c":1,"k":"B","x":65,"x2":65,"y":1140,"y2":1190},{"r":1,"c":1,"k":"B","x":323,"x2":323,"y":1140,"y2":1190},
{"r":1,"c":1,"k":"M","x":195,"y":1118,"t":"1m"}
]},
"facet":{
"column":{"field":"c","type":"ordinal","header":{"title":null,"labelExpr":"['4.5 - 5.5 Years','5.5 - 6.5 Years','6.5 - 8.5 Years'][datum.value-1]","labelFont":"Liberation Sans","labelFontSize":34,"labelFontWeight":"bold","labelColor":"#111","labelPadding":2}},
"row":{"field":"r","type":"ordinal","header":{"title":null,"labelExpr":"['Single vs Multi Cue Model','Correct-Or-Guess Model','Exponential Decay Model'][datum.value-1]","labelFont":"Liberation Sans","labelFontSize":33.7,"labelColor":"#333","labelAngle":-90,"labelOrient":"left","labelAlign":"center","labelPadding":-6}}
},
"spec":{"width":430.7,"height":431,
"encoding":{"x":{"field":"x","type":"quantitative","scale":{"domain":[0,1293]},"axis":null},"y":{"field":"y","type":"quantitative","scale":{"domain":[1293,0]},"axis":null}},
"layer":[
{"transform":[{"filter":"datum.k=='E'"}],"mark":{"type":"point","shape":"M-1,0A1,0.255 0 1 1 1,0A1,0.255 0 1 1 -1,0Z","size":4810,"filled":true,"stroke":"#222","strokeWidth":1,"opacity":1},"encoding":{"fill":{"field":"s","type":"nominal","scale":{"domain":["red","green"],"range":["#ff0000","#00ff00"]},"legend":null}}},
{"transform":[{"filter":"datum.k=='Y'"}],"mark":{"type":"point","shape":"M-1,0A1,0.25 0 1 1 1,0A1,0.25 0 1 1 -1,0Z","size":4950,"angle":45,"filled":true,"fill":"#ffff00","stroke":"#222","strokeWidth":1,"opacity":1}},
{"transform":[{"filter":"datum.k=='G'"}],"mark":{"type":"point","shape":"M0,-1L0.83,0L0,1L-0.83,0Z","size":784,"filled":true,"fill":"#00ff00","opacity":1}},
{"transform":[{"filter":"datum.k=='R'"}],"mark":{"type":"point","shape":"circle","filled":false,"fill":null,"stroke":"#959595","strokeWidth":1.2,"opacity":1},"encoding":{"size":{"field":"d","type":"quantitative","scale":{"type":"pow","exponent":2,"domain":[0,300],"range":[0,40000]},"legend":null}}},
{"transform":[{"filter":"datum.k=='D'"}],"mark":{"type":"point","shape":"diamond","size":100,"filled":false,"fill":null,"stroke":"#959595","strokeWidth":1.2,"opacity":1}},
{"transform":[{"filter":"datum.k=='L'"}],"mark":{"type":"line","interpolate":"cardinal-closed","stroke":"#959595","strokeWidth":1.2},"encoding":{"detail":{"field":"i"},"order":{"value":null}}},
{"transform":[{"filter":"datum.k=='P'"}],"mark":{"type":"circle","size":52,"opacity":1},"encoding":{"color":{"field":"v","type":"quantitative","scale":{"domain":[0,0.5,1],"range":["#ff7f0a","#807f78","#0a84ff"],"interpolate":"rgb"},"legend":null}}},
{"transform":[{"filter":"datum.k=='C'"}],"mark":{"type":"rect","fill":{"x1":0,"y1":1,"x2":0,"y2":0,"gradient":"linear","stops":[{"offset":0,"color":"#ff7f0a"},{"offset":0.5,"color":"#807f78"},{"offset":1,"color":"#0a84ff"}]}},"encoding":{"x2":{"field":"x2"},"y2":{"field":"y2"}}},
{"transform":[{"filter":"datum.k=='B'"}],"mark":{"type":"rule","stroke":"#555","strokeWidth":1},"encoding":{"x2":{"field":"x2"},"y2":{"field":"y2"}}},
{"transform":[{"filter":"datum.k=='T'"}],"mark":{"type":"text","align":"right","baseline":"middle","font":"Liberation Sans","fontSize":20,"fill":"#333"},"encoding":{"text":{"field":"t"}}},
{"transform":[{"filter":"datum.k=='V'"}],"mark":{"type":"text","align":"left","baseline":"alphabetic","angle":-90,"font":"Liberation Sans","fontSize":19,"fill":"#333"},"encoding":{"text":{"field":"t"}}},
{"transform":[{"filter":"datum.k=='M'"}],"mark":{"type":"text","align":"center","baseline":"middle","font":"Liberation Sans","fontSize":19,"fill":"#333"},"encoding":{"text":{"field":"t"}}}
]}}
